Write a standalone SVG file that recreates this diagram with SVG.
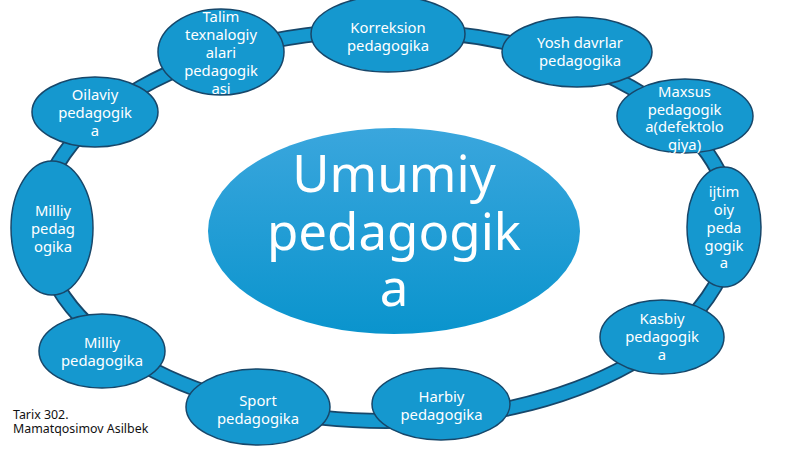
<svg xmlns="http://www.w3.org/2000/svg" width="800" height="449" viewBox="0 0 800 449">
<defs>
<linearGradient id="cg" x1="0" y1="0" x2="0" y2="1">
<stop offset="0" stop-color="#3aa6dd"/>
<stop offset="1" stop-color="#0a94cd"/>
</linearGradient>
<style>
.node ellipse{fill:#1598cf;stroke:#17476a;stroke-width:1.5}
.node text{fill:#ffffff;font-family:"Noto Sans","Open Sans",sans-serif;font-size:14.8px;text-anchor:middle}
.center text{fill:#ffffff;font-family:"Noto Sans","Open Sans",sans-serif;font-size:51px;text-anchor:middle}
.foot{fill:#111111;font-family:"Noto Sans","Open Sans",sans-serif;font-size:12.4px}
</style>
</defs>
<rect width="800" height="449" fill="#ffffff"/>
<g id="connectors">
<ellipse cx="386" cy="225.5" rx="346" ry="195.5" fill="none" stroke="#17476a" stroke-width="16"/>
<ellipse cx="386" cy="225.5" rx="346" ry="195.5" fill="none" stroke="#1598cf" stroke-width="12.5"/>
</g>
<g id="center" class="center">
<ellipse cx="394" cy="231" rx="186" ry="103" fill="url(#cg)"/>
<text x="394" y="192">Umumiy</text>
<text x="394" y="250">pedagogik</text>
<text x="394" y="306">a</text>
</g>
<g id="n-talim" class="node">
<ellipse cx="221" cy="52" rx="63" ry="43"/>
<text x="221" y="22">Talim</text>
<text x="221" y="40">texnalogiy</text>
<text x="221" y="58">alari</text>
<text x="221" y="76">pedagogik</text>
<text x="221" y="94">asi</text>
</g>
<g id="n-korreksion" class="node">
<ellipse cx="388" cy="34" rx="77" ry="38"/>
<text x="388" y="33">Korreksion</text>
<text x="388" y="51">pedagogika</text>
</g>
<g id="n-yosh" class="node">
<ellipse cx="577" cy="52" rx="75" ry="35"/>
<text x="580" y="48">Yosh davrlar</text>
<text x="580" y="66">pedagogika</text>
</g>
<g id="n-maxsus" class="node">
<ellipse cx="685" cy="116" rx="68" ry="37"/>
<text x="684.5" y="97">Maxsus</text>
<text x="684.5" y="114.5">pedagogik</text>
<text x="684.5" y="132">a(defektolo</text>
<text x="684.5" y="150">giya)</text>
</g>
<g id="n-ijtimoiy" class="node">
<ellipse cx="724" cy="227" rx="37" ry="60"/>
<text x="724" y="197">ijtim</text>
<text x="724" y="215">oiy</text>
<text x="724" y="233">peda</text>
<text x="724" y="251">gogik</text>
<text x="724" y="268">a</text>
</g>
<g id="n-kasbiy" class="node">
<ellipse cx="662" cy="337" rx="62" ry="37"/>
<text x="662" y="324">Kasbiy</text>
<text x="662" y="342">pedagogik</text>
<text x="662" y="360">a</text>
</g>
<g id="n-harbiy" class="node">
<ellipse cx="441" cy="404" rx="69" ry="36"/>
<text x="441.5" y="402">Harbiy</text>
<text x="441.5" y="420">pedagogika</text>
</g>
<g id="n-sport" class="node">
<ellipse cx="258" cy="407" rx="72" ry="38"/>
<text x="258" y="406">Sport</text>
<text x="258" y="424">pedagogika</text>
</g>
<g id="n-milliy-bottom" class="node">
<ellipse cx="102" cy="351" rx="63" ry="37"/>
<text x="102" y="348">Milliy</text>
<text x="102" y="366">pedagogika</text>
</g>
<g id="n-milliy-left" class="node">
<ellipse cx="52" cy="228" rx="41" ry="67"/>
<text x="53" y="216">Milliy</text>
<text x="53" y="234">pedag</text>
<text x="53" y="252">ogika</text>
</g>
<g id="n-oilaviy" class="node">
<ellipse cx="95" cy="112" rx="63" ry="35"/>
<text x="95" y="100">Oilaviy</text>
<text x="95" y="118">pedagogik</text>
<text x="95" y="136">a</text>
</g>
<g id="footer">
<text class="foot" x="13" y="419">Tarix 302.</text>
<text class="foot" x="13" y="433">Mamatqosimov Asilbek</text>
</g>
</svg>
